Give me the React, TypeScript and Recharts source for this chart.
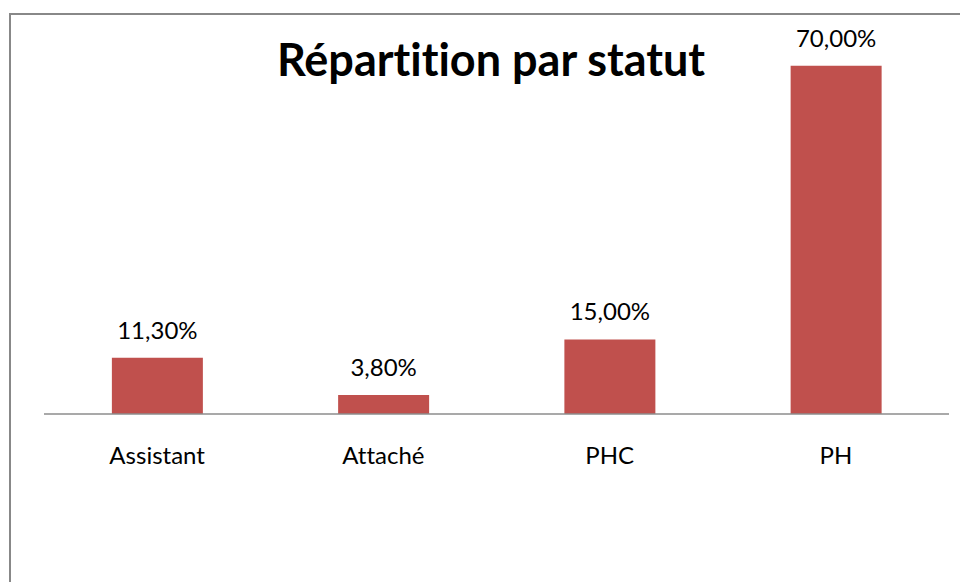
import React from 'react';
import { BarChart, Bar, XAxis, YAxis, LabelList } from 'recharts';

// Répartition par statut
const categories = ['Assistant', 'Attaché', 'PHC', 'PH'];
const percentages = [11.3, 3.8, 15.0, 70.0];
const yMax = 80;

const data = categories.map((name, i) => ({ name, value: percentages[i] }));

const FONT = 'Lato, "Open Sans", sans-serif';

const formatPct = (v: number) => `${v.toFixed(2).replace('.', ',')}%`;

export default function App() {
  return (
    <div
      style={{
        position: 'fixed',
        left: 0,
        top: 0,
        width: 960,
        height: 582,
        overflow: 'hidden',
        background: '#fff',
        fontFamily: FONT,
        fontVariantLigatures: 'none',
      }}
    >
      {/* outer frame, runs past the right and bottom edges */}
      <div
        style={{
          position: 'absolute',
          left: 9,
          top: 13,
          width: 1000,
          height: 700,
          border: '2px solid #888',
          boxSizing: 'border-box',
        }}
      />

      <div style={{ position: 'absolute', left: 0, top: 0 }}>
        <BarChart
          width={960}
          height={582}
          data={data}
          margin={{ top: 16, right: 11, left: 44, bottom: 0 }}
          barCategoryGap="30%"
        >
          <YAxis hide domain={[0, yMax]} />
          <XAxis
            dataKey="name"
            height={168}
            axisLine={{ stroke: '#8c8c8c', strokeWidth: 1.5 }}
            tickLine={false}
            tickMargin={27}
            tick={{ fill: '#000', fontSize: 24, fontFamily: FONT }}
          />
          <Bar dataKey="value" fill="#C0504D" isAnimationActive={false}>
            <LabelList
              dataKey="value"
              position="top"
              offset={19}
              formatter={(v: number) => formatPct(v)}
              style={{ fill: '#000', fontSize: 24, fontFamily: FONT }}
            />
          </Bar>
        </BarChart>
      </div>

      <div
        style={{
          position: 'absolute',
          left: 0,
          width: 982,
          top: 34,
          textAlign: 'center',
          fontSize: 45,
          fontWeight: 700,
          color: '#000',
          lineHeight: '50px',
        }}
      >
        Répartition par statut
      </div>
    </div>
  );
}
